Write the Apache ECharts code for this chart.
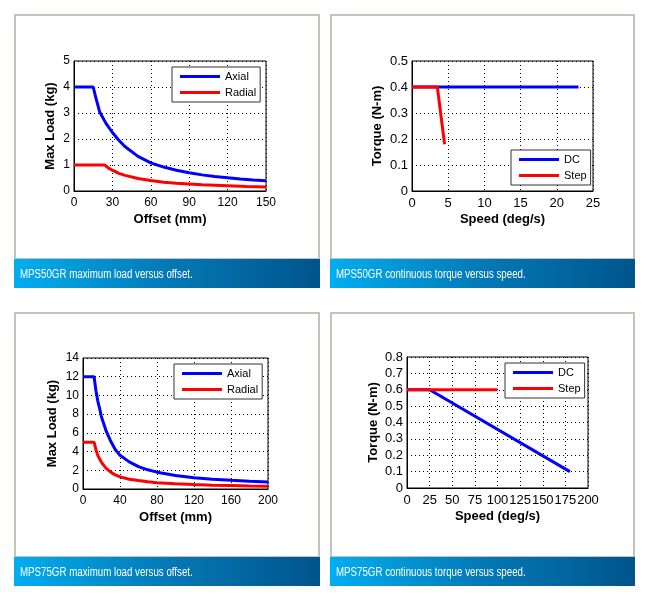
<!DOCTYPE html>
<html>
<head>
<meta charset="utf-8">
<title>MPS50GR / MPS75GR</title>
<script src="https://cdn.jsdelivr.net/npm/echarts@6/dist/echarts.min.js"></script>
<style>
html, body { margin: 0; padding: 0; background: #fff; }
#main { width: 650px; height: 600px; }
</style>
</head>
<body>
<div id="main"></div>
<script>
// MPS50GR max load vs offset
var offset50Axial = [0, 15, 17, 20, 25, 30, 35, 40, 50, 60, 70, 80, 90, 100, 110, 120, 130, 140, 150],
    load50Axial   = [4, 4, 3.6, 3.05, 2.6, 2.25, 1.95, 1.7, 1.33, 1.08, 0.92, 0.8, 0.7, 0.62, 0.56, 0.51, 0.46, 0.42, 0.39],
    offset50Radial = [0, 24, 27, 30, 35, 40, 50, 60, 70, 80, 90, 100, 120, 135, 150],
    load50Radial   = [1, 1, 0.88, 0.8, 0.68, 0.6, 0.48, 0.4, 0.34, 0.3, 0.27, 0.24, 0.2, 0.17, 0.15];

// MPS50GR torque vs speed
var speed50DC = [0, 23],
    torque50DC = [0.4, 0.4],
    speed50Step = [0, 3.5, 4.5],
    torque50Step = [0.4, 0.4, 0.18];

// MPS75GR max load vs offset
var offset75 = [0, 12, 14, 16, 18, 20, 25, 30, 35, 40, 50, 60, 70, 80, 100, 120, 140, 160, 180, 200],
    load75Axial  = [12, 12, 10.5, 9.4, 8.6, 7.7, 6.2, 5.1, 4.2, 3.6, 2.9, 2.4, 2.05, 1.8, 1.45, 1.2, 1.05, 0.93, 0.83, 0.75],
    load75Radial = [5, 5, 4.2, 3.6, 3.2, 2.85, 2.2, 1.8, 1.5, 1.3, 1.05, 0.9, 0.78, 0.68, 0.55, 0.47, 0.41, 0.37, 0.33, 0.3];

// MPS75GR torque vs speed
var speed75DC = [0, 25, 180],
    torque75DC = [0.6, 0.6, 0.1],
    speed75Step = [0, 100],
    torque75Step = [0.6, 0.6];

var captions = [
    'MPS50GR maximum load versus offset.',
    'MPS50GR continuous torque versus speed.',
    'MPS75GR maximum load versus offset.',
    'MPS75GR continuous torque versus speed.'
];

var FONT = '"Liberation Sans", Arial, sans-serif';

function pairs(xs, ys) {
    return xs.map(function (x, i) { return [x, ys[i]]; });
}

// panel frames: [left, top, width]
var panels = [[15, 15, 304], [331, 15, 303], [15, 313, 304], [331, 313, 303]];

var graphics = [];
panels.forEach(function (p, i) {
    graphics.push({
        type: 'rect', z: -10,
        shape: {x: p[0], y: p[1], width: p[2], height: 244},
        style: {fill: '#fff', stroke: '#c6c2ba', lineWidth: 2}
    });
    graphics.push({
        type: 'rect', z: -5,
        shape: {x: p[0] - 1, y: p[1] + 244, width: p[2] + 2, height: 29},
        style: {
            fill: new echarts.graphic.LinearGradient(0, 0, 1, 0, [
                {offset: 0, color: '#00aeef'},
                {offset: 0.5, color: '#0479b6'},
                {offset: 1, color: '#00558b'}
            ])
        }
    });
    graphics.push({
        type: 'text', z: 10,
        x: p[0] + 5, y: p[1] + 260, scaleX: 0.81,
        style: {
            text: captions[i], fill: '#fff', font: '12px ' + FONT,
            verticalAlign: 'middle', align: 'left'
        }
    });
});

var gridLine = {show: true, lineStyle: {color: '#000', type: [1, 3], width: 1}};

function xAx(idx, name, max, interval, fs) {
    return {
        type: 'value', gridIndex: idx, min: 0, max: max, interval: interval,
        name: name, nameLocation: 'middle', nameGap: 22,
        nameTextStyle: {fontFamily: FONT, fontSize: 13, fontWeight: 'bold', color: '#000'},
        axisLine: {show: true, lineStyle: {color: '#000', width: 1}},
        axisTick: {show: false},
        axisLabel: {fontFamily: FONT, fontSize: fs, color: '#000', margin: 6,
                    interval: 0, hideOverlap: false, showMinLabel: true, showMaxLabel: true},
        splitLine: gridLine
    };
}

function yAx(idx, name, max, interval, gap, fs) {
    return {
        type: 'value', gridIndex: idx, min: 0, max: max, interval: interval,
        name: name, nameLocation: 'middle', nameGap: gap,
        nameTextStyle: {fontFamily: FONT, fontSize: 13, fontWeight: 'bold', color: '#000'},
        axisLine: {show: true, lineStyle: {color: '#000', width: 1}},
        axisTick: {show: false},
        axisLabel: {fontFamily: FONT, fontSize: fs, color: '#000', margin: 4,
                    showMinLabel: true, showMaxLabel: true},
        splitLine: gridLine
    };
}

function lineSeries(name, idx, data, color) {
    return {
        name: name, type: 'line', xAxisIndex: idx, yAxisIndex: idx,
        data: data, showSymbol: false, symbol: 'none',
        lineStyle: {color: color, width: 3}, itemStyle: {color: color}
    };
}

function legendAt(left, top, names) {
    return {
        data: names, orient: 'vertical', left: left, top: top,
        icon: 'rect', itemWidth: 40, itemHeight: 3, itemGap: 3,
        padding: [3, 4, 3, 8],
        borderColor: '#333', borderWidth: 1, backgroundColor: '#fff',
        textStyle: {fontFamily: FONT, fontSize: 11, color: '#000', lineHeight: 13},
        selectedMode: false
    };
}

var chart = echarts.init(document.getElementById('main'), null, {renderer: 'canvas'});
chart.setOption({
    animation: false,
    backgroundColor: '#fff',
    graphic: graphics,
    grid: [
        {left: 74, top: 61, width: 192, height: 130, show: true, borderColor: '#000', borderWidth: 1, backgroundColor: '#fff'},
        {left: 412, top: 61, width: 181, height: 130, show: true, borderColor: '#000', borderWidth: 1, backgroundColor: '#fff'},
        {left: 83, top: 358, width: 185, height: 131, show: true, borderColor: '#000', borderWidth: 1, backgroundColor: '#fff'},
        {left: 407, top: 357, width: 181, height: 131, show: true, borderColor: '#000', borderWidth: 1, backgroundColor: '#fff'}
    ],
    xAxis: [
        xAx(0, 'Offset (mm)', 150, 30, 12),
        xAx(1, 'Speed (deg/s)', 25, 5, 13),
        xAx(2, 'Offset (mm)', 200, 40, 12),
        xAx(3, 'Speed (deg/s)', 200, 25, 13)
    ],
    yAxis: [
        yAx(0, 'Max Load (kg)', 5, 1, 17, 12),
        yAx(1, 'Torque (N-m)', 0.5, 0.1, 28, 13),
        yAx(2, 'Max Load (kg)', 14, 2, 24, 12),
        yAx(3, 'Torque (N-m)', 0.8, 0.1, 27, 13)
    ],
    legend: [
        legendAt(172, 67, ['Axial', 'Radial']),
        legendAt(511, 150, ['DC', 'Step']),
        legendAt(174, 364, ['Axial', 'Radial']),
        legendAt(505, 363, ['DC', 'Step'])
    ],
    series: [
        lineSeries('Axial', 0, pairs(offset50Axial, load50Axial), '#0000ff'),
        lineSeries('Radial', 0, pairs(offset50Radial, load50Radial), '#ff0000'),
        lineSeries('DC', 1, pairs(speed50DC, torque50DC), '#0000ff'),
        lineSeries('Step', 1, pairs(speed50Step, torque50Step), '#ff0000'),
        lineSeries('Axial', 2, pairs(offset75, load75Axial), '#0000ff'),
        lineSeries('Radial', 2, pairs(offset75, load75Radial), '#ff0000'),
        lineSeries('DC', 3, pairs(speed75DC, torque75DC), '#0000ff'),
        lineSeries('Step', 3, pairs(speed75Step, torque75Step), '#ff0000')
    ]
});
</script>
</body>
</html>
